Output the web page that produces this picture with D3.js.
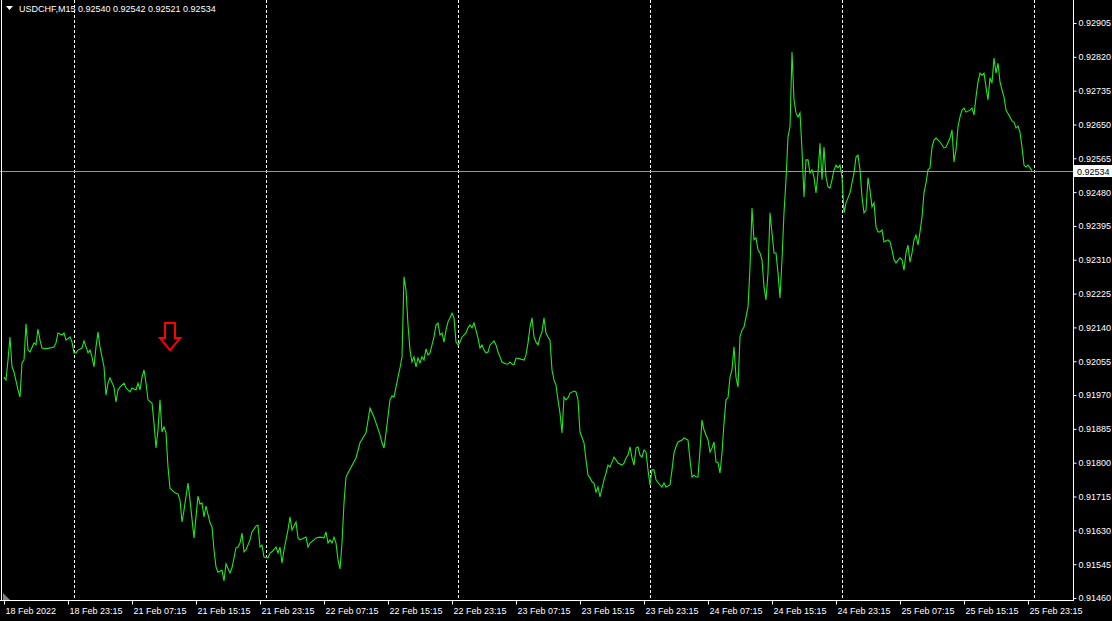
<!DOCTYPE html>
<html><head><meta charset="utf-8">
<script src="https://cdn.jsdelivr.net/npm/d3@7"></script>
<style>html,body{margin:0;padding:0;background:#000;overflow:hidden}</style>
</head><body>
<svg id="chart" width="1112" height="621"></svg>
<script>
// ---------- data ----------
const symbolTitle = "USDCHF,M15";
const ohlcLast = ["0.92540", "0.92542", "0.92521", "0.92534"];
const currentPrice = 0.92534;

const bars = [0,1,2,3,4,5,7,8,9,10,11,12,13,15,16,17,18,19,21,25,26,27,29,30,31,33,34,35,36,37,39,40,41,42,43,44,45,46,47,48,50,51,52,53,55,56,57,58,60,61,63,64,66,67,68,69,70,71,72,74,75,76,77,78,79,80,81,82,83,85,87,88,89,90,92,93,95,96,97,98,99,100,101,103,104,105,106,107,109,110,111,113,114,116,117,118,119,120,121,123,124,126,127,128,129,130,132,133,134,136,137,138,139,140,142,143,144,146,147,148,150,151,152,153,155,156,158,160,161,162,163,164,165,166,167,168,169,170,171,172,176,178,181,183,185,186,188,189,190,191,193,194,195,196,197,198,199,200,201,202,203,204,205,206,207,208,209,210,211,212,213,215,216,217,218,219,220,221,222,223,224,225,226,227,228,229,231,232,233,234,235,236,237,238,239,240,241,242,243,245,246,247,248,249,251,252,253,254,255,256,258,260,261,262,263,264,265,266,267,268,269,270,271,272,273,274,275,276,277,278,279,280,281,282,283,285,286,287,288,290,291,292,293,294,295,296,297,298,299,300,301,302,303,305,306,307,309,310,311,312,313,314,315,316,317,318,319,320,321,322,323,324,325,326,328,329,330,331,333,334,335,336,337,339,340,342,343,344,345,346,347,348,349,350,352,353,354,355,356,357,358,359,360,361,362,363,364,365,366,367,368,369,370,372,373,374,375,376,377,378,379,380,381,382,383,384,385,386,387,388,389,390,391,392,393,394,395,396,397,398,399,400,401,402,403,404,405,406,407,408,409,410,411,412,413,414,415,416,417,418,419,420,421,423,424,425,426,427,428,429,430,431,432,433,434,435,436,437,438,439,440,442,443,444,445,446,448,449,450,451,452,453,454,455,456,457,458,459,460,461,462,463,464,465,466,468,470,471,473,474,475,476,477,478,479,480,481,483,484,485,486,487,488,489,490,491,492,493,494,495,496,497,498,499,500,501,503,504,505,506,507,508,509,510,511,512,513,514];

const closes = [0.92015,0.92008,0.92058,0.92116,0.92041,0.92028,0.91983,0.91965,0.92051,0.92058,0.92149,0.92083,0.92078,0.92101,0.92096,0.92136,0.92108,0.92088,0.92086,0.92091,0.92101,0.92126,0.92121,0.92126,0.92108,0.92116,0.92103,0.92076,0.92076,0.92083,0.92088,0.92106,0.92091,0.92076,0.92083,0.92066,0.92041,0.92091,0.92128,0.92091,0.92041,0.91970,0.92000,0.92013,0.91990,0.91953,0.91983,0.91990,0.92000,0.91988,0.91978,0.91988,0.91983,0.92000,0.91983,0.92015,0.92033,0.92000,0.91958,0.91950,0.91900,0.91837,0.91882,0.91958,0.91877,0.91890,0.91875,0.91789,0.91736,0.91726,0.91721,0.91706,0.91651,0.91681,0.91749,0.91706,0.91611,0.91664,0.91716,0.91696,0.91699,0.91664,0.91691,0.91649,0.91639,0.91581,0.91538,0.91525,0.91530,0.91503,0.91546,0.91523,0.91536,0.91586,0.91588,0.91598,0.91623,0.91576,0.91581,0.91606,0.91626,0.91641,0.91643,0.91588,0.91593,0.91563,0.91561,0.91573,0.91576,0.91588,0.91573,0.91588,0.91548,0.91581,0.91631,0.91664,0.91631,0.91651,0.91611,0.91606,0.91611,0.91613,0.91588,0.91598,0.91606,0.91611,0.91613,0.91611,0.91626,0.91598,0.91606,0.91598,0.91613,0.91598,0.91556,0.91533,0.91598,0.91699,0.91764,0.91774,0.91812,0.91850,0.91875,0.91937,0.91915,0.91900,0.91870,0.91850,0.91837,0.91875,0.91958,0.91968,0.91965,0.91990,0.92015,0.92038,0.92066,0.92267,0.92234,0.92146,0.92083,0.92053,0.92066,0.92041,0.92063,0.92051,0.92066,0.92058,0.92086,0.92071,0.92076,0.92116,0.92146,0.92151,0.92121,0.92126,0.92103,0.92133,0.92154,0.92164,0.92176,0.92164,0.92103,0.92096,0.92103,0.92116,0.92126,0.92139,0.92146,0.92139,0.92151,0.92133,0.92113,0.92088,0.92096,0.92083,0.92076,0.92078,0.92096,0.92106,0.92096,0.92078,0.92066,0.92053,0.92048,0.92048,0.92053,0.92048,0.92046,0.92063,0.92061,0.92058,0.92071,0.92101,0.92141,0.92164,0.92116,0.92103,0.92096,0.92116,0.92128,0.92164,0.92126,0.92116,0.92108,0.92033,0.92008,0.91995,0.91958,0.91925,0.91875,0.91965,0.91958,0.91963,0.91975,0.91980,0.91978,0.91958,0.91877,0.91850,0.91807,0.91769,0.91762,0.91752,0.91749,0.91726,0.91739,0.91714,0.91736,0.91757,0.91774,0.91794,0.91789,0.91814,0.91807,0.91799,0.91794,0.91799,0.91812,0.91819,0.91840,0.91812,0.91794,0.91837,0.91840,0.91819,0.91814,0.91832,0.91827,0.91782,0.91744,0.91782,0.91782,0.91757,0.91744,0.91739,0.91749,0.91739,0.91744,0.91782,0.91824,0.91840,0.91852,0.91857,0.91862,0.91857,0.91807,0.91764,0.91769,0.91764,0.91764,0.91832,0.91907,0.91882,0.91857,0.91827,0.91837,0.91852,0.91802,0.91800,0.91774,0.91824,0.91900,0.91958,0.91963,0.92015,0.92033,0.92091,0.92015,0.91990,0.92116,0.92133,0.92141,0.92191,0.92290,0.92440,0.92360,0.92365,0.92335,0.92327,0.92310,0.92242,0.92209,0.92277,0.92428,0.92377,0.92327,0.92327,0.92277,0.92214,0.92310,0.92428,0.92511,0.92619,0.92644,0.92832,0.92712,0.92679,0.92669,0.92679,0.92586,0.92468,0.92561,0.92561,0.92528,0.92536,0.92518,0.92478,0.92528,0.92603,0.92511,0.92593,0.92518,0.92493,0.92490,0.92511,0.92536,0.92548,0.92541,0.92548,0.92518,0.92428,0.92453,0.92478,0.92503,0.92528,0.92568,0.92573,0.92536,0.92468,0.92428,0.92435,0.92516,0.92485,0.92443,0.92453,0.92392,0.92380,0.92380,0.92385,0.92355,0.92360,0.92355,0.92335,0.92310,0.92302,0.92315,0.92310,0.92284,0.92327,0.92347,0.92304,0.92327,0.92360,0.92372,0.92347,0.92380,0.92417,0.92478,0.92503,0.92536,0.92541,0.92593,0.92611,0.92616,0.92606,0.92591,0.92593,0.92616,0.92636,0.92556,0.92586,0.92644,0.92669,0.92686,0.92691,0.92681,0.92686,0.92691,0.92674,0.92719,0.92757,0.92779,0.92774,0.92779,0.92744,0.92712,0.92767,0.92754,0.92817,0.92779,0.92804,0.92757,0.92737,0.92719,0.92686,0.92669,0.92659,0.92656,0.92641,0.92646,0.92631,0.92593,0.92548,0.92543,0.92548,0.92541,0.92534];

const priceTicks = [0.91460,0.91545,0.91630,0.91715,0.91800,0.91885,0.91970,0.92055,0.92140,0.92225,0.92310,0.92395,0.92480,0.92565,0.92650,0.92735,0.92820,0.92905];
const timeTickBars = [0,32,64,96,128,160,192,224,256,288,320,352,384,416,448,480,512];
const timeTickLabels = ["18 Feb 2022","18 Feb 23:15","21 Feb 07:15","21 Feb 15:15","21 Feb 23:15","22 Feb 07:15","22 Feb 15:15","22 Feb 23:15","23 Feb 07:15","23 Feb 15:15","23 Feb 23:15","24 Feb 07:15","24 Feb 15:15","24 Feb 23:15","25 Feb 07:15","25 Feb 15:15","25 Feb 23:15"];
const dayGridBars = [35,131,227,323,419,515];
const arrowBar = 83, arrowPrice = 0.92083;

// ---------- drawing ----------
const W = 1112, H = 621;
const plotRight = 1073, plotBottom = 600;
const FONT = "'Liberation Sans', Arial, sans-serif";
const FS = "9px";
const svg = d3.select("#chart");
svg.append("rect").attr("width", W).attr("height", H).attr("fill", "#000");

const x = d3.scaleLinear().domain([0, 514]).range([4, 1032]);
const y = d3.scaleLinear().domain([0.91460, 0.92905]).range([598, 23]);

// vertical day separators (dotted)
svg.append("g").selectAll("line").data(dayGridBars).join("line")
  .attr("x1", d => Math.round(x(d)) + 0.5).attr("x2", d => Math.round(x(d)) + 0.5)
  .attr("y1", 0).attr("y2", plotBottom)
  .attr("stroke", "#fff").attr("stroke-width", 1).attr("stroke-dasharray", "3,2");

// bid line
svg.append("line")
  .attr("x1", 0).attr("x2", plotRight)
  .attr("y1", Math.round(y(currentPrice)) + 0.5).attr("y2", Math.round(y(currentPrice)) + 0.5)
  .attr("stroke", "#8f9aa6").attr("stroke-width", 1);

// price line
const data = bars.map((b, i) => [b, closes[i]]);
svg.append("path").datum(data)
  .attr("d", d3.line().x(d => x(d[0])).y(d => y(d[1])))
  .attr("fill", "none").attr("stroke", "#22e622").attr("stroke-width", 1.1);

// frame
svg.append("line").attr("x1", plotRight + 0.5).attr("x2", plotRight + 0.5).attr("y1", 0).attr("y2", plotBottom + 1)
  .attr("stroke", "#fff");
svg.append("line").attr("x1", 0).attr("x2", plotRight + 1).attr("y1", plotBottom + 0.5).attr("y2", plotBottom + 0.5)
  .attr("stroke", "#fff");
svg.append("line").attr("x1", 1.5).attr("x2", 1.5).attr("y1", 0).attr("y2", plotBottom)
  .attr("stroke", "#fff");

// right price axis
const yAxis = d3.axisRight(y).tickValues(priceTicks).tickSize(3).tickPadding(2)
  .tickFormat(d3.format(".5f"));
const gy = svg.append("g").attr("transform", `translate(${plotRight + 0.5},0)`).call(yAxis);
gy.select(".domain").remove();
gy.selectAll(".tick line").attr("stroke", "#fff");
gy.selectAll(".tick text").attr("fill", "#fff").attr("font-family", FONT).attr("font-size", FS);

// current price label
const cy = Math.round(y(currentPrice));
svg.append("rect").attr("x", plotRight + 1).attr("y", cy - 6).attr("width", W - plotRight - 1).attr("height", 12).attr("fill", "#fff");
svg.append("text").attr("x", plotRight + 4).attr("y", cy + 3.5).text(d3.format(".5f")(currentPrice))
  .attr("fill", "#000").attr("font-family", FONT).attr("font-size", FS);

// bottom time axis
const xAxis = d3.axisBottom(x).tickValues(timeTickBars).tickSize(4).tickPadding(3)
  .tickFormat((d, i) => timeTickLabels[i]);
const gx = svg.append("g").attr("transform", `translate(0,${plotBottom + 0.5})`).call(xAxis);
gx.select(".domain").remove();
gx.selectAll(".tick line").attr("stroke", "#fff");
gx.selectAll(".tick text").attr("fill", "#fff").attr("font-family", FONT).attr("font-size", FS)
  .attr("text-anchor", "start").attr("dx", "1");

// shift marker (bottom-left)
svg.append("path").attr("d", "M3,593 L3,600 L10,600 Z").attr("fill", "#808080");

// header
const hdr = svg.append("g").attr("transform", "translate(6,9)");
hdr.append("path").attr("d", "M0,-3 L7,-3 L3.5,1 Z").attr("fill", "#fff");
hdr.append("text").attr("x", 13).attr("y", 3).attr("fill", "#fff")
  .attr("font-family", FONT).attr("font-size", FS)
  .text(symbolTitle + "  " + ohlcLast.join(" "));

// sell arrow annotation
const ax = x(arrowBar), ay = y(arrowPrice);
svg.append("path")
  .attr("d", `M${ax - 5},${ay - 27} L${ax + 5},${ay - 27} L${ax + 5},${ay - 12} L${ax + 10},${ay - 12} L${ax},${ay} L${ax - 10},${ay - 12} L${ax - 5},${ay - 12} Z`)
  .attr("fill", "none").attr("stroke", "#ff0000").attr("stroke-width", 2).attr("stroke-linejoin", "miter");
</script>
</body></html>
